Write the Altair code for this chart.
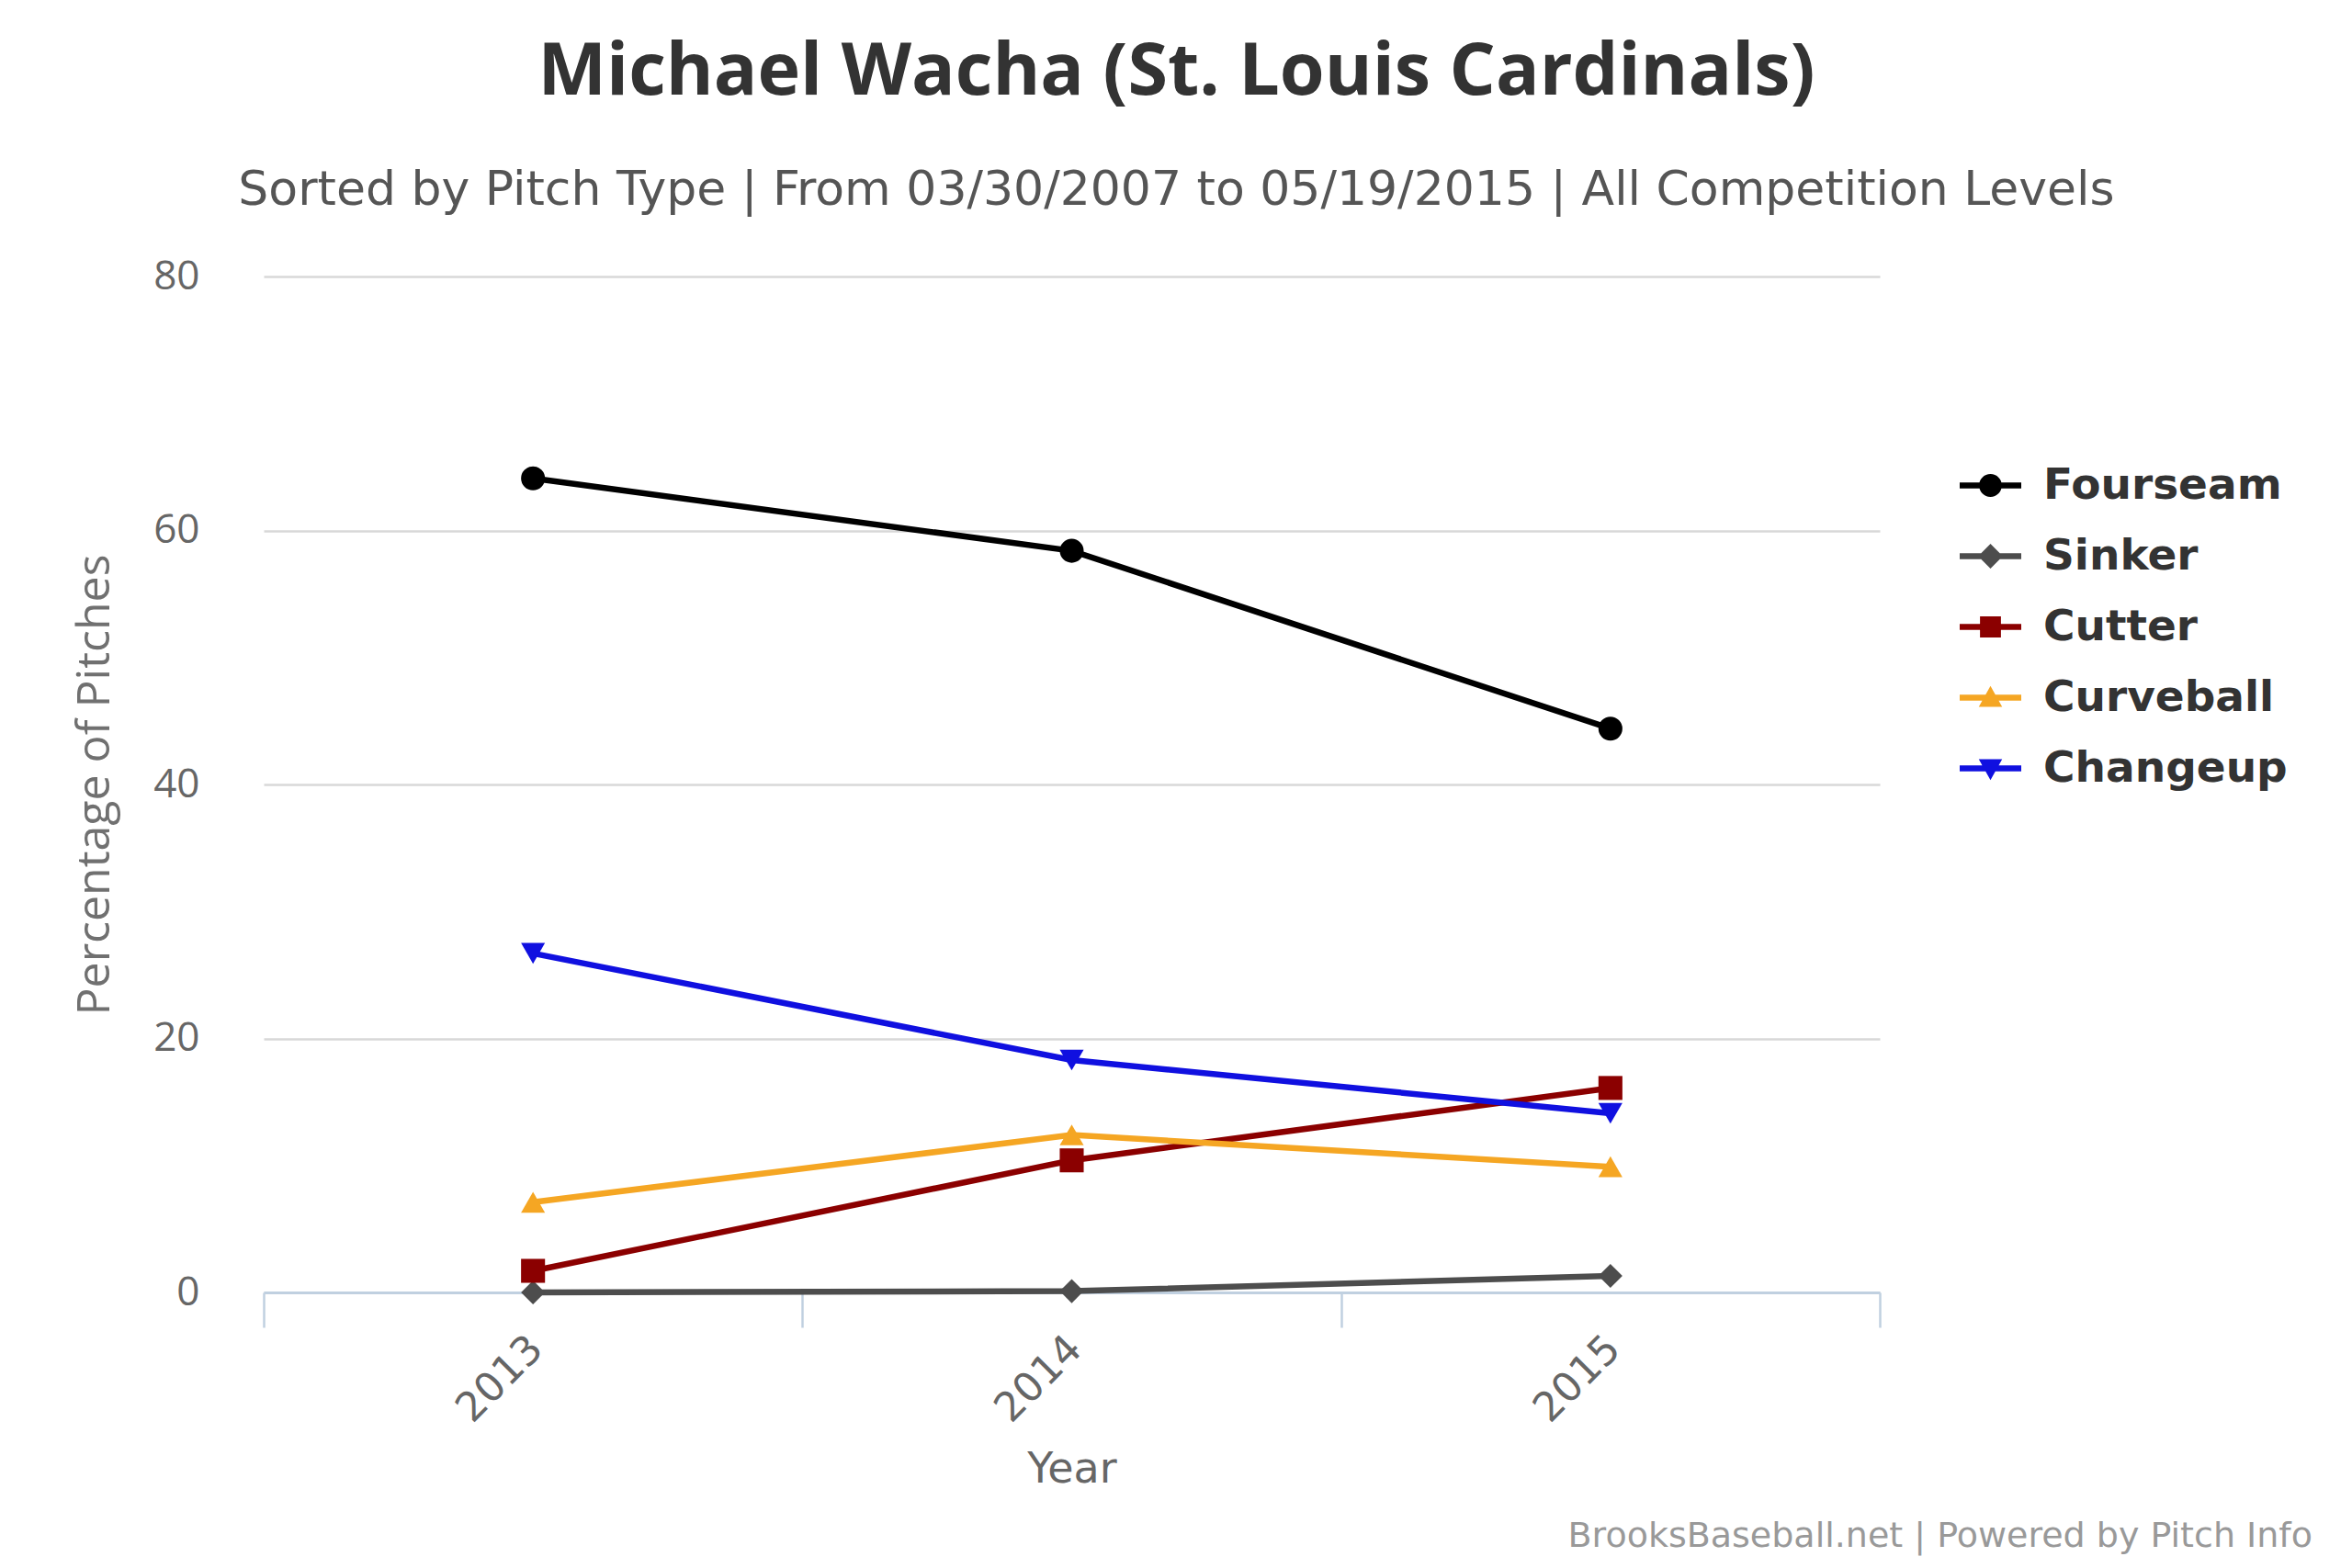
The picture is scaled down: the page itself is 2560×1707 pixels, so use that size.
import altair as alt
import pandas as pd

# ---- data ----
years = ["2013", "2014", "2015"]
pitch_types = ["Fourseam", "Sinker", "Cutter", "Curveball", "Changeup"]
fourseam = [64.1, 58.4, 44.4]
sinker = [0.0, 0.1, 1.3]
cutter = [1.7, 10.4, 16.1]
curveball = [7.1, 12.4, 9.9]
changeup = [26.7, 18.3, 14.1]
colors = ["#000000", "#4d4d4d", "#8b0000", "#f5a623", "#1010e0"]
shapes = ["circle", "diamond", "square", "triangle-up", "triangle-down"]

title_text = "Michael Wacha (St. Louis Cardinals)"
subtitle_text = "Sorted by Pitch Type | From 03/30/2007 to 05/19/2015 | All Competition Levels"
credit_text = "BrooksBaseball.net | Powered by Pitch Info"

series = {"Fourseam": fourseam, "Sinker": sinker, "Cutter": cutter,
          "Curveball": curveball, "Changeup": changeup}
rows = []
for p in pitch_types:
    for y, v in zip(years, series[p]):
        rows.append({"pitch": p, "year": y, "value": v})
df = pd.DataFrame(rows)

# legend symbols: a line segment with the marker in the middle (unit square paths)
bar = "M-1,-0.1L1,-0.1L1,0.1L-1,0.1Z"
legend_paths = [
    bar + "M-0.37,0A0.37,0.37 0 1,1 0.37,0A0.37,0.37 0 1,1 -0.37,0Z",
    bar + "M0,-0.4L0.4,0L0,0.4L-0.4,0Z",
    bar + "M-0.34,-0.34L0.34,-0.34L0.34,0.34L-0.34,0.34Z",
    bar + "M0,-0.38L0.38,0.3L-0.38,0.3Z",
    bar + "M-0.38,-0.3L0.38,-0.3L0,0.38Z",
]

W, H = 1759, 1106

color_scale = alt.Scale(domain=pitch_types, range=colors)

x_enc = alt.X(
    "year:O",
    bandPosition=0.5,
    scale=alt.Scale(type="band", paddingInner=0, paddingOuter=0),
    axis=alt.Axis(
        title="Year",
        labelAngle=-45,
        labelAlign="right",
        labelBaseline="top",
        labelFont="DejaVu Sans",
        labelFontSize=44,
        labelColor="#666666",
        labelPadding=1,
        labelOffset=-12,
        tickBand="extent",
        tickSize=38,
        tickColor="#C0D0E0",
        tickWidth=2.5,
        domainColor="#C0D0E0",
        domainWidth=3,
        grid=False,
        titleFont="DejaVu Sans",
        titleFontSize=46,
        titleFontWeight="normal",
        titleColor="#666666",
        titleY=192,
        titleBaseline="middle",
    ),
)
y_enc = alt.Y(
    "value:Q",
    scale=alt.Scale(domain=[0, 80]),
    axis=alt.Axis(
        values=[0, 20, 40, 60, 80],
        title="Percentage of Pitches",
        grid=True,
        gridColor="#D8D8D8",
        gridWidth=2.5,
        domain=False,
        ticks=False,
        labelPadding=70,
        labelFont="Open Sans",
        labelFontSize=44,
        labelColor="#666666",
        titleFont="Open Sans",
        titleFontSize=50,
        titleFontWeight="normal",
        titleColor="#707070",
        titleX=-184,
        titleY=553,
        titleAlign="center",
        titleBaseline="middle",
    ),
)

base = alt.Chart(df)

lines = base.mark_line(strokeWidth=6.5).encode(
    x=x_enc, y=y_enc,
    color=alt.Color("pitch:N", scale=color_scale, legend=None),
    order=alt.Order("year:O"),
)

points = base.mark_point(filled=True, size=680, opacity=1).encode(
    x=x_enc, y=y_enc,
    color=alt.Color("pitch:N", scale=color_scale, legend=None),
    shape=alt.Shape("pitch:N", scale=alt.Scale(domain=pitch_types, range=shapes), legend=None),
)

legend_kw = dict(
    title=None,
    orient="none",
    legendX=1846,
    legendY=194,
    symbolSize=4489,
    symbolStrokeWidth=0,
    symbolOpacity=1,
    labelFont="DejaVu Sans",
    labelFontWeight="bold",
    labelFontSize=47,
    labelColor="#333333",
    labelOffset=24,
    rowPadding=20,
    labelLimit=600,
)

legend_layer = base.transform_filter("false").mark_point(filled=True, opacity=1).encode(
    x=x_enc, y=y_enc,
    color=alt.Color("pitch:N", scale=color_scale, legend=alt.Legend(**legend_kw)),
    shape=alt.Shape("pitch:N", scale=alt.Scale(domain=pitch_types, range=legend_paths),
                    legend=alt.Legend(**legend_kw)),
)

credit = alt.Chart(pd.DataFrame({"t": [credit_text]})).mark_text(
    align="right", baseline="alphabetic", font="DejaVu Sans", fontSize=38, color="#999999"
).encode(text="t:N", x=alt.value(2230), y=alt.value(1383))

chart = (
    alt.layer(lines, points, legend_layer, credit)
    .resolve_scale(shape="independent")
    .resolve_legend(color="independent", shape="independent")
    .properties(
        width=W,
        height=H,
        padding={"left": 279, "top": 293, "right": 506, "bottom": 300},
        autosize=alt.AutoSizeParams(type="none"),
        background="white",
        title=alt.TitleParams(
            text=title_text,
            subtitle=subtitle_text,
            font="Open Sans",
            fontSize=79,
            fontWeight="bold",
            color="#333333",
            subtitleFont="DejaVu Sans",
            subtitleFontSize=52,
            subtitleColor="#555555",
            subtitlePadding=62,
            anchor="middle",
            frame="bounds",
            offset=45,
            dx=-17,
        ),
    )
    .configure_view(stroke=None)
)

chart.save("out.html", embed_options={"renderer": "svg", "actions": False})
